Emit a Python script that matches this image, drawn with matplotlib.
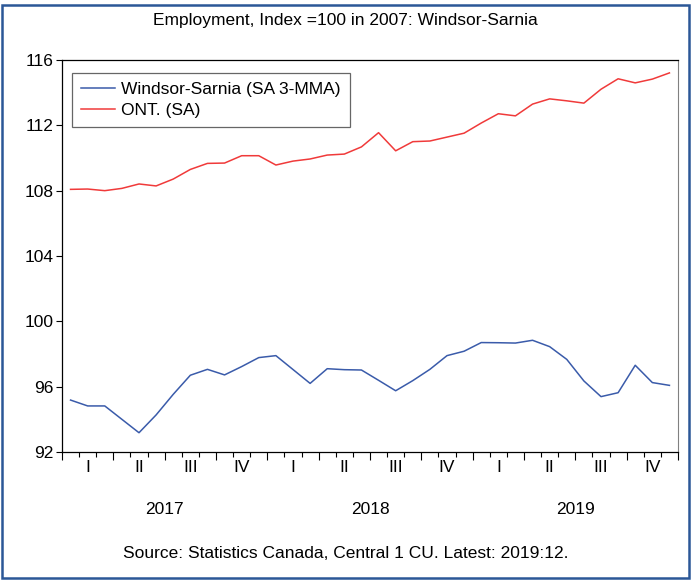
import numpy as np
import matplotlib.pyplot as plt
from matplotlib.patches import Rectangle
from matplotlib.transforms import blended_transform_factory

plt.rcParams['font.family'] = ['Liberation Sans', 'DejaVu Sans']

# Monthly index values, Jan 2017 - Dec 2019 (2007 = 100)
windsor_sarnia = [95.18, 94.82, 94.82, 94.00, 93.18, 94.27, 95.53, 96.70, 97.06, 96.72,
                  97.23, 97.78, 97.90, 97.05, 96.20, 97.10, 97.04, 97.02, 96.39, 95.75,
                  96.37, 97.06, 97.90, 98.17, 98.70, 98.69, 98.67, 98.84, 98.45, 97.67,
                  96.35, 95.39, 95.63, 97.31, 96.25, 96.08]
ontario = [108.08, 108.10, 108.00, 108.14, 108.41, 108.29, 108.71, 109.30, 109.67, 109.69,
           110.14, 110.14, 109.57, 109.81, 109.94, 110.18, 110.24, 110.68, 111.55, 110.44,
           111.00, 111.04, 111.28, 111.52, 112.14, 112.71, 112.58, 113.30, 113.62, 113.50,
           113.36, 114.21, 114.85, 114.60, 114.83, 115.21]
quarters = ['I', 'II', 'III', 'IV']
years = ['2017', '2018', '2019']
yticks = [92, 96, 100, 104, 108, 112, 116]

FS = 12.5
W, H = 691, 581
fig = plt.figure(figsize=(W / 100, H / 100), dpi=100)
ax = fig.add_axes([62 / W, (H - 452) / H, 616 / W, 392 / H])

x = np.arange(len(ontario)) + 0.5
ax.plot(x, windsor_sarnia, color='#3A5BAA', lw=1.1, label='Windsor-Sarnia (SA 3-MMA)')
ax.plot(x, ontario, color='#F03A3A', lw=1.1, label='ONT. (SA)')

ax.set_xlim(0, len(ontario))
ax.set_ylim(92, 116)
ax.set_yticks(yticks)
ax.tick_params(axis='y', direction='out', length=4, width=0.8, labelsize=FS, pad=2)

# month ticks, longer at quarter boundaries
ax.set_xticks(np.arange(0, 37, 3))
ax.set_xticks(np.arange(0, 37), minor=True)
ax.set_xticklabels([])
ax.tick_params(axis='x', which='major', direction='out', length=6, width=0.8)
ax.tick_params(axis='x', which='minor', direction='out', length=3.5, width=0.8)

for side in ['left', 'bottom', 'top']:
    ax.spines[side].set_color('black')
    ax.spines[side].set_linewidth(0.9)
ax.spines['right'].set_color('#808080')

trans = blended_transform_factory(ax.transData, fig.transFigure)
for k in range(12):
    ax.text(3 * k + 1.5, (H - 467) / H, quarters[k % 4], transform=trans,
            ha='center', va='center', fontsize=FS)
for k, yr in enumerate(years):
    ax.text(12 * k + 6, (H - 510) / H, yr, transform=trans,
            ha='center', va='center', fontsize=FS)

leg = ax.legend(loc='upper left', bbox_to_anchor=(10 / 616, 1 - 13 / 392),
                fontsize=FS, frameon=True, fancybox=False, handlelength=2.0,
                handletextpad=0.35, borderpad=0.5, labelspacing=0.35, borderaxespad=0)
leg.get_frame().set_edgecolor('#404040')
leg.get_frame().set_linewidth(0.9)

fig.text(0.5, (H - 20) / H, 'Employment, Index =100 in 2007: Windsor-Sarnia',
         ha='center', va='center', fontsize=FS)
fig.text(0.5, (H - 553) / H, 'Source: Statistics Canada, Central 1 CU. Latest: 2019:12.',
         ha='center', va='center', fontsize=FS)

# outer frame
fig.patches.append(Rectangle((2 / W, 3 / H), 687 / W, 573 / H, transform=fig.transFigure,
                             fill=False, edgecolor='#2B5797', linewidth=1.8))

fig.savefig('out.png', dpi=100)
